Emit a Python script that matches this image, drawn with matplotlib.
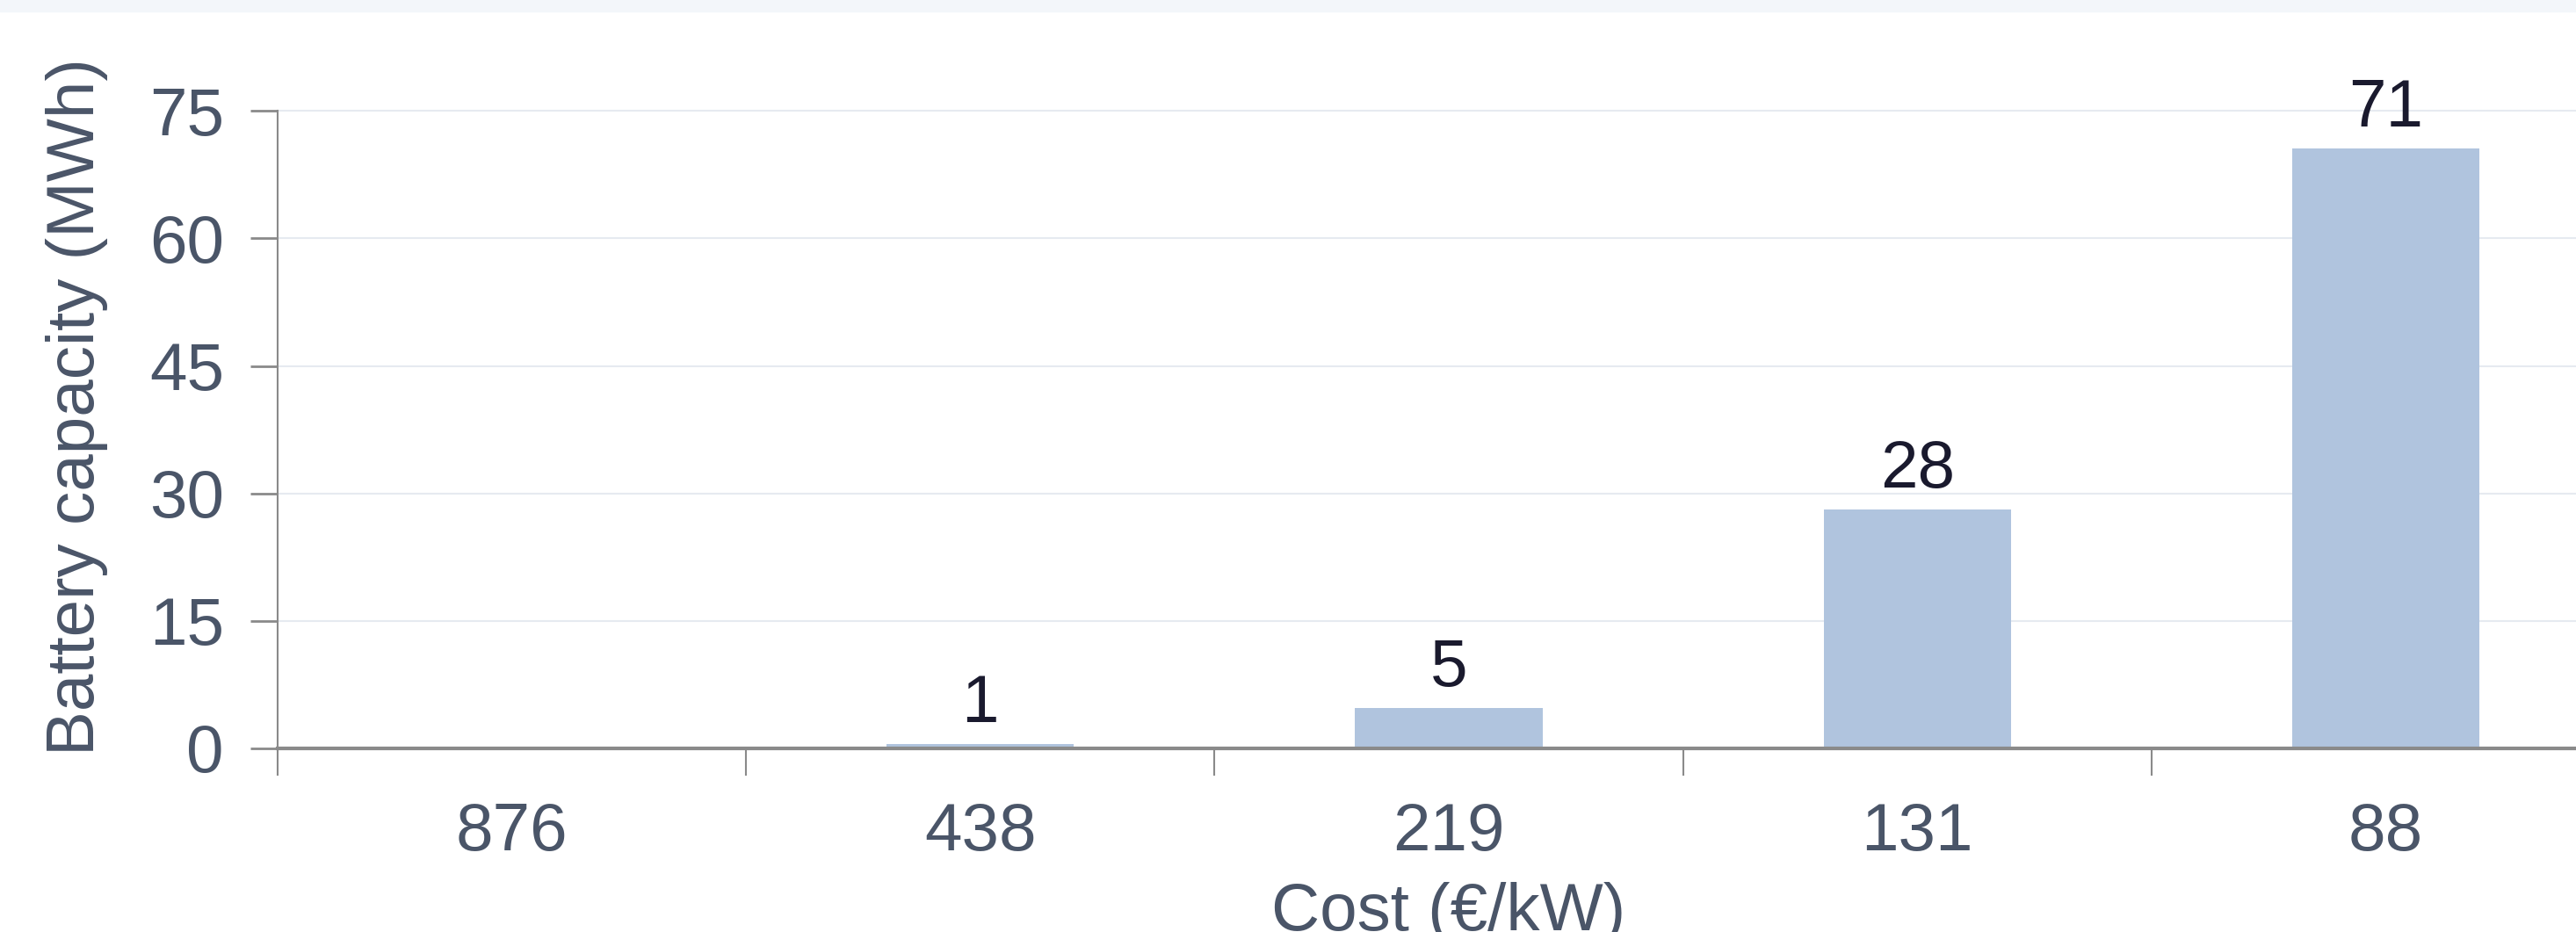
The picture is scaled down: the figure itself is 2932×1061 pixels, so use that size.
import matplotlib
matplotlib.use("Agg")
import matplotlib.pyplot as plt
from matplotlib.patches import Rectangle

costs = ["876", "438", "219", "131", "88"]
capacity = [0.0, 0.55, 4.75, 28.1, 70.6]
y_ticks = [0, 15, 30, 45, 60, 75]

BAR = "#b0c4de"
TEXT = "#4a5568"
VALUE = "#1a1a2e"
GRID = "#e6eaf0"
SPINE = "#8a8a8a"
FS = 55

plt.rcParams["font.family"] = ["Liberation Sans", "DejaVu Sans"]

fig = plt.figure(figsize=(29.32, 10.61), dpi=100)
fig.patches.append(Rectangle((0, 1 - 13 / 1061), 1, 13 / 1061, transform=fig.transFigure,
                             color="#f3f6fa", zorder=0))

ax = fig.add_axes([316 / 2932, 209 / 1061, 2666 / 2932, 778 / 1061])
x = range(len(costs))
nonzero = [i for i, v in enumerate(capacity) if v > 0]
ax.bar([x[i] for i in nonzero], [capacity[i] for i in nonzero], width=0.4, color=BAR, zorder=2)
for i in nonzero:
    ax.annotate(f"{round(capacity[i])}", (i, capacity[i]), xytext=(0, 18),
                textcoords="offset points", ha="center", va="baseline",
                fontsize=FS, color=VALUE)

ax.set_xlim(-0.5, len(costs) - 0.5)
ax.set_ylim(0, 80.4)
ax.set_yticks(y_ticks)
ax.set_xticks(list(x))
ax.set_xticklabels(costs)
ax.set_xticks([i - 0.5 for i in range(len(costs) + 1)], minor=True)
ax.tick_params(axis="x", which="major", length=0, pad=44, labelsize=FS, labelcolor=TEXT)
ax.tick_params(axis="x", which="minor", length=22, width=1.5, color=SPINE, direction="out")
ax.tick_params(axis="y", length=22, width=2, color=SPINE, pad=22, labelsize=FS, labelcolor=TEXT)

ax.grid(axis="y", color=GRID, linewidth=1.5, zorder=0)
ax.set_axisbelow(True)
for s in ["top", "right"]:
    ax.spines[s].set_visible(False)
ax.spines["left"].set_color(SPINE)
ax.spines["left"].set_linewidth(1.5)
ax.spines["left"].set_bounds(0, 75)
ax.spines["bottom"].set_color(SPINE)
ax.spines["bottom"].set_linewidth(3)

ax.set_ylabel("Battery capacity (MWh)", fontsize=FS, color=TEXT, labelpad=34)
ax.set_xlabel("Cost (€/kW)", fontsize=FS, color=TEXT, labelpad=14)

fig.savefig("out.png", dpi=100)
